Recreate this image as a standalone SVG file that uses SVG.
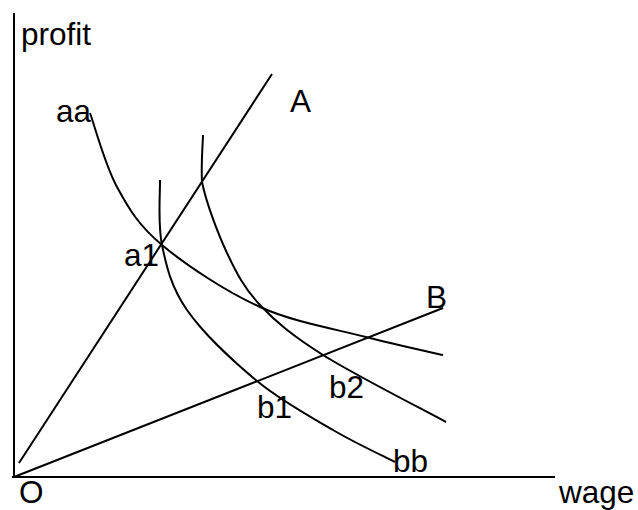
<svg xmlns="http://www.w3.org/2000/svg" width="638" height="510" viewBox="0 0 638 510">
<style>
.ln{fill:none;stroke:#000;stroke-width:2;stroke-linecap:butt}
.lb{font-family:"Liberation Sans",Arial,sans-serif;font-size:31.5px;fill:#000}
</style>
<rect width="638" height="510" fill="#fff"/>
<g id="axes">
<line class="ln" x1="14" y1="13" x2="14" y2="478"/>
<line class="ln" x1="12" y1="477" x2="555" y2="477"/>
<text class="lb" x="21" y="45">profit</text>
<text class="lb" x="559" y="503">wage</text>
<text class="lb" x="19" y="503">O</text>
</g>
<g id="connectors">
<line id="lineA" class="ln" x1="19" y1="463" x2="272" y2="74"/>
<line id="lineB" class="ln" x1="14" y1="477" x2="443" y2="308"/>
<path id="curve-aa" class="ln" d="M90,113 C94.5,125.3 105,165 117,187 C129,209 138.2,225 162,245 C185.8,265 226,291.7 260,307 C294,322.3 335.5,329 366,337 C396.5,345 430,352 443,355"/>
<path id="curve-b1" class="ln" d="M160,180 C160.3,190.8 157.5,223.3 162,245 C166.5,266.7 171.2,287.3 187,310 C202.8,332.7 232.7,361 257,381 C281.3,401 310,416.5 333,430 C356,443.5 384.7,456.7 395,462"/>
<path id="curve-b2" class="ln" d="M203,135 C202.8,142.8 201,165 202,182 C206,201.7 217.3,232.5 227,253 C236.7,273.5 244,288 260,305 C276,322 292,335.5 323,355 C354,374.5 425.5,410.8 446,422"/>
</g>
<g id="labels">
<text class="lb" x="56" y="122">aa</text>
<text class="lb" x="290" y="112">A</text>
<text class="lb" x="124" y="266">a1</text>
<text class="lb" x="426" y="308">B</text>
<text class="lb" x="329" y="398">b2</text>
<text class="lb" x="257" y="418">b1</text>
<text class="lb" x="393" y="472">bb</text>
</g>
</svg>
